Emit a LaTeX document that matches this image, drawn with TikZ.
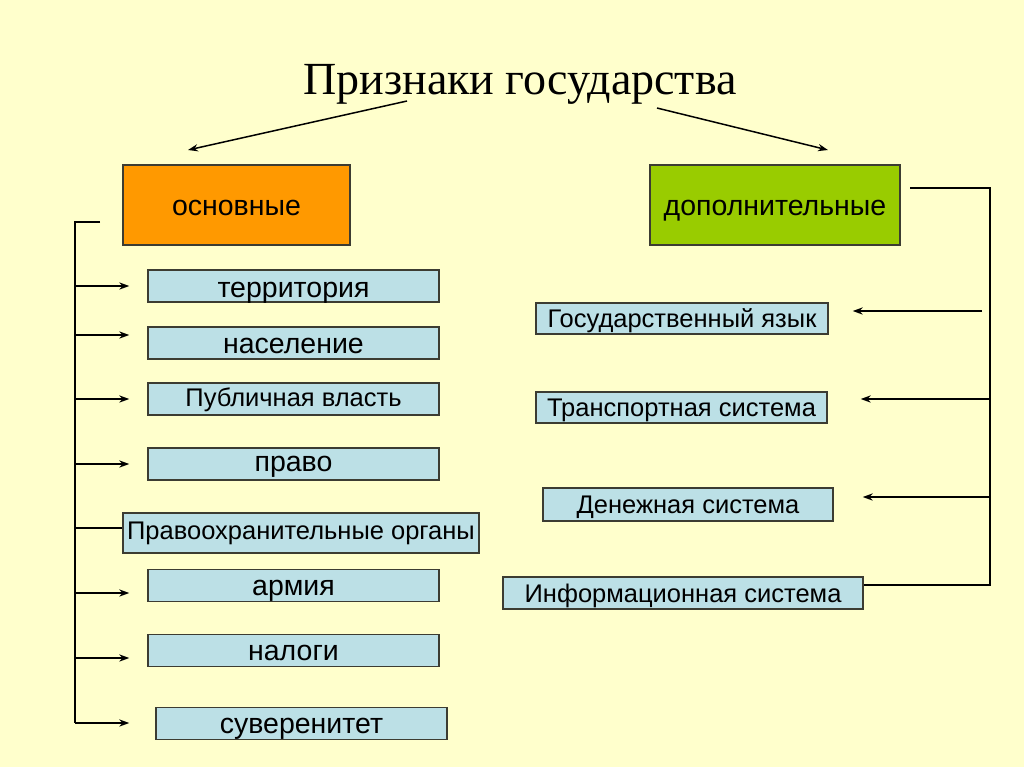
\documentclass[tikz,border=0pt]{standalone}
\usepackage{fontspec}
\setmainfont{Liberation Serif}
\setsansfont{Liberation Sans}
\usepackage{tikz}
\usepackage{xcolor}
\usetikzlibrary{arrows.meta}

\definecolor{bgyellow}{RGB}{255,255,204}
\definecolor{boxblue}{RGB}{188,224,230}
\definecolor{boxorange}{RGB}{255,153,0}
\definecolor{boxgreen}{RGB}{153,204,0}
\definecolor{boxline}{RGB}{60,60,50}

\tikzset{
  card/.style={draw=boxline, line width=0.75pt, inner sep=0pt, minimum height=16pt,
    fill=boxblue, text depth=0pt, text height=10pt, font=\sffamily\fontsize{14.25}{16}\selectfont},
  smallcard/.style={card, text height=8.5pt, font=\sffamily\fontsize{12.75}{15}\selectfont},
  headcard/.style={card, minimum height=40pt, text height=10pt},
  link/.style={line width=0.75pt},
  arr/.style={link, -{Stealth[length=5pt,width=3.6pt]}}
}

\begin{document}
\begin{tikzpicture}[x=0.5pt, y=-0.5pt]
                % Background
                \fill[bgyellow] (0,0) rectangle (1024,767);
                \useasboundingbox (0,0) rectangle (1024,767);
                \node[font=\fontsize{23}{27}\selectfont, anchor=base] (title) at (520,94) {Признаки государства};
                % Main groups
                \node[headcard, fill=boxorange, minimum width=113.5pt] (osn) at (236.5,205) {основные};
                \node[headcard, fill=boxgreen, minimum width=125pt] (dop) at (775,205) {дополнительные};
                \coordinate (tl) at (407,101);
                \coordinate (tlend) at (188,150);
                \coordinate (tr) at (657,108);
                \coordinate (trend) at (828,150);
                \draw[arr] (tl) -- (tlend);
                \draw[arr] (tr) -- (trend);
                % Basic features
                \node[card, minimum width=145.5pt, text height=11pt] (ter) at (293.5,286) {территория};
                \node[card, minimum width=145.5pt, text height=10.5pt] (nas) at (293.5,343) {население};
                \node[smallcard, minimum width=145.5pt, text height=7pt] (pub) at (293.5,399) {Публичная власть};
                \node[card, minimum width=145.5pt, text height=7pt] (pra) at (293.5,464) {право};
                \node[smallcard, minimum width=178pt, minimum height=20pt, text height=6pt] (pro) at (301,533) {Правоохранительные органы};
                \node[card, minimum width=145.5pt, text height=9.5pt] (arm) at (293.5,585.5) {армия};
                \node[card, minimum width=145.5pt, text height=9.5pt] (nal) at (293.5,650.5) {налоги};
                \node[card, minimum width=145.5pt, text height=9.5pt] (suv) at (301.5,723.5) {суверенитет};
                % Left bracket
                \coordinate (ltop) at (100,222);
                \coordinate (lspine) at (75,222);
                \coordinate (l1) at (75,286);
                \coordinate (l2) at (75,335);
                \coordinate (l3) at (75,399);
                \coordinate (l4) at (75,464);
                \coordinate (l5) at (75,528);
                \coordinate (l6) at (75,593);
                \coordinate (l7) at (75,658);
                \coordinate (l8) at (75,723);
                \draw[link] (ltop) -- (lspine) -- (l8);
                \draw[arr, shorten >=9pt] (l1) -- (l1 -| ter.west);
                \draw[arr, shorten >=9pt] (l2) -- (l2 -| nas.west);
                \draw[arr, shorten >=9pt] (l3) -- (l3 -| pub.west);
                \draw[arr, shorten >=9pt] (l4) -- (l4 -| pra.west);
                \draw[link] (l5) -- (l5 -| pro.west);
                \draw[arr, shorten >=9pt] (l6) -- (l6 -| arm.west);
                \draw[arr, shorten >=9pt] (l7) -- (l7 -| nal.west);
                \draw[arr, shorten >=13pt] (l8) -- (l8 -| suv.west);
                % Additional features
                \node[smallcard, minimum width=146pt, minimum height=15.5pt] (yaz) at (682,318.5) {Государственный язык};
                \node[smallcard, minimum width=145.5pt, minimum height=15.5pt] (tra) at (681.5,407.5) {Транспортная система};
                \node[smallcard, minimum width=145pt, minimum height=16.5pt] (den) at (688,504.5) {Денежная система};
                \node[smallcard, minimum width=180pt, text height=9pt] (inf) at (683,593) {Информационная система};
                % Right bracket
                \coordinate (rtop) at (910,188);
                \coordinate (rbot) at (990,585);
                \coordinate (r1) at (982,311);
                \coordinate (r2) at (990,399);
                \coordinate (r3) at (990,497);
                \draw[link] (rtop) -| (rbot) -- (rbot -| inf.east);
                \draw[arr, shorten >=12pt] (r1) -- (r1 -| yaz.east);
                \draw[arr, shorten >=16.5pt] (r2) -- (r2 -| tra.east);
                \draw[arr, shorten >=14.5pt] (r3) -- (r3 -| den.east);
            \end{tikzpicture}
\end{document}
